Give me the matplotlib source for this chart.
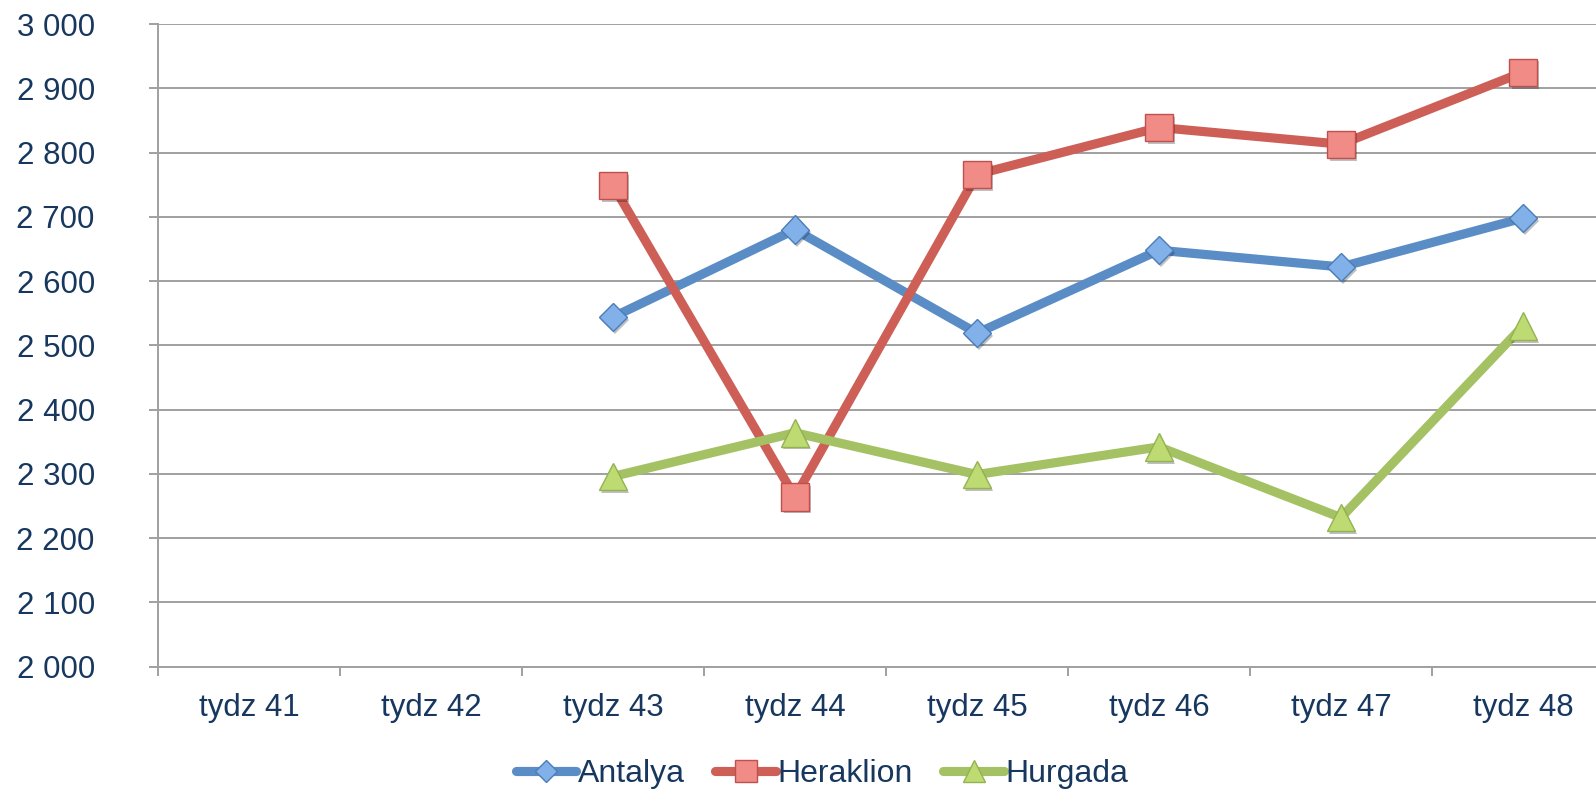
import numpy as np
import matplotlib
matplotlib.use("Agg")
import matplotlib.pyplot as plt
import matplotlib.patheffects as pe
from matplotlib.ticker import FuncFormatter, FixedLocator

# === DATA ===
weeks = ["tydz 41", "tydz 42", "tydz 43", "tydz 44", "tydz 45", "tydz 46", "tydz 47", "tydz 48"]
antalya = [np.nan, np.nan, 2544, 2680, 2519, 2648, 2622, 2698]
heraklion = [np.nan, np.nan, 2749, 2264, 2766, 2839, 2813, 2925]
hurgada = [np.nan, np.nan, 2296, 2364, 2299, 2342, 2232, 2530]

# === STYLE ===
text_col = "#17375E"
grid_col = "#A0A0A0"
plt.rcParams["font.family"] = ["Liberation Sans", "DejaVu Sans"]

series = [
    ("Antalya", antalya, "#5A8DC6", "D", 14.5, "#82B0E8", "#4A7DBA"),
    ("Heraklion", heraklion, "#CD5F57", "s", 19.5, "#F08B86", "#C0504D"),
    ("Hurgada", hurgada, "#A4C264", "^", 20, "#BEDB73", "#93B350"),
]

fig = plt.figure(figsize=(15.96, 7.90), dpi=100)
ax = fig.add_axes([158 / 1596, 123.3 / 790, 1456 / 1596, 642.7 / 790])

x = np.arange(len(weeks))
shadow = [pe.SimplePatchShadow(offset=(1.5, -2), shadow_rgbFace="#000000", alpha=0.25), pe.Normal()]

for name, vals, lc, mk, ms, fc, ec in series:
    ax.plot(x, vals, color=lc, lw=6.6, solid_capstyle="round", zorder=3)
    ax.plot(x, vals, ls="none", marker=mk, ms=ms, mfc=fc, mec=ec, mew=1.0,
            zorder=4, path_effects=shadow)
    # legend proxy
    ax.plot([], [], color=lc, lw=6.6, solid_capstyle="round", marker=mk,
            ms=ms * 0.8, mfc=fc, mec=ec, mew=1.0, label=name)

# === AXES ===
ax.set_xlim(-0.5, len(weeks) - 0.5)
ax.set_ylim(2000, 3000)
ax.set_yticks(np.arange(2000, 3001, 100))
ax.yaxis.set_major_formatter(FuncFormatter(lambda v, p: f"{v:,.0f}".replace(",", " ")))
ax.set_xticks(x)
ax.set_xticklabels(weeks)
ax.xaxis.set_minor_locator(FixedLocator(np.arange(-0.5, len(weeks), 1.0)))

ax.grid(axis="y", color=grid_col, lw=1.4, zorder=0)
ax.set_axisbelow(True)
for s in ["top", "right"]:
    ax.spines[s].set_visible(False)
for s in ["left", "bottom"]:
    ax.spines[s].set_color(grid_col)
    ax.spines[s].set_linewidth(1.4)

ax.tick_params(axis="y", colors=grid_col, labelcolor=text_col, labelsize=22.5,
               length=6.5, width=1.4, pad=39)
ax.tick_params(axis="x", which="major", length=0, labelcolor=text_col, labelsize=22.5, pad=19)
ax.tick_params(axis="x", which="minor", colors=grid_col, length=6.5, width=1.4)

# === LEGEND ===
leg = fig.legend(loc="center", bbox_to_anchor=(822 / 1596, 16 / 790), ncol=3,
                 frameon=False, handlelength=1.9, handletextpad=0.05, columnspacing=0.95,
                 prop={"size": 23})
for t in leg.get_texts():
    t.set_color(text_col)

fig.savefig("out.png", dpi=100)
